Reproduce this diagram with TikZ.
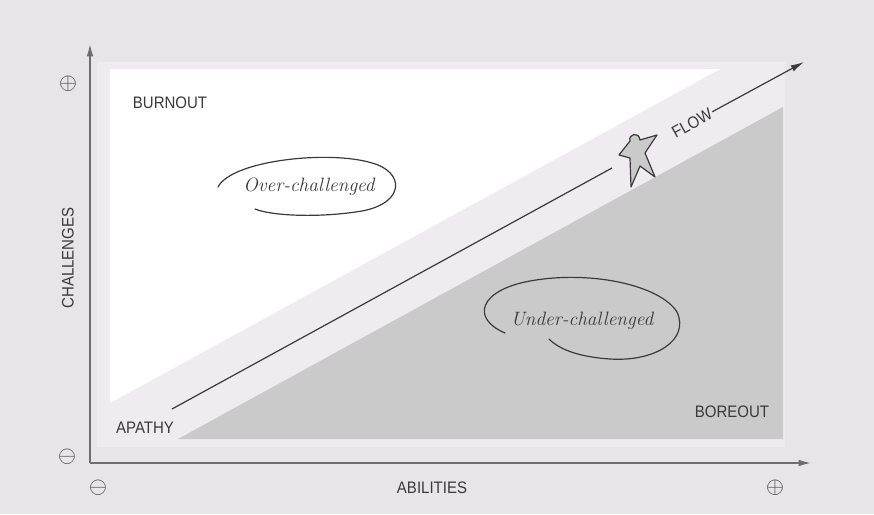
\documentclass[tikz,border=0pt]{standalone}
\usepackage{fontspec}
\setsansfont{Liberation Sans}[FakeStretch=0.9]
\usetikzlibrary{arrows.meta}

\definecolor{bgpink}{HTML}{E8E5E8}
\definecolor{panel}{HTML}{EEECEE}
\definecolor{dark}{HTML}{CBCACB}
\definecolor{axisgray}{HTML}{6E6E6E}
\definecolor{inkgray}{HTML}{3A3A3A}

\tikzset{every picture/.style={line width=0.75pt}}

\begin{document}
\begin{tikzpicture}[x=0.75pt,y=0.75pt,yscale=-1,
  caps/.style={font=\sffamily\fontsize{12.5}{12.5}\selectfont, text=inkgray, inner sep=0.75pt},
  hand/.style={font=\itshape\fontsize{14.5}{14.5}\selectfont, text=inkgray, inner sep=0.75pt},
  sign/.style={font=\fontsize{17}{17}\selectfont, text=inkgray, inner sep=0pt},
  axis/.style={draw=axisgray, line width=1.6pt, -{Latex[length=10pt,width=5pt]}},
  loop/.style={draw=inkgray, line width=0.9pt, line cap=round}]
\useasboundingbox (0,0) rectangle (874,514);
%set diagram background
\fill[bgpink] (0,0) rectangle (874,514);

%Shape: Rectangle [id:panel]
\fill[panel] (97,62) rectangle (785,447);
%Shape: White zone [id:burnout]
\fill[white] (110,69) -- (720,69) -- (110,403) -- cycle ;
%Shape: Grey zone [id:boreout]
\fill[dark] (783,107) -- (783,439) -- (178,439) -- cycle ;

%Axes
\coordinate (origin) at (90,463);
\coordinate (ytip) at (90,43);
\coordinate (xtip) at (812,463);
\draw[axis] (origin) -- (ytip) ;
\draw[axis] (origin) -- (xtip) ;

% Text Node
\node[caps] (burnout) at (170,103) {BURNOUT};
% Text Node
\node[caps] (apathy) at (145,428) {APATHY};
% Text Node
\node[caps] (boreout) at (732,412) {BOREOUT};
% Text Node
\node[caps, rotate=29] (flow) at (692,123) {FLOW};
% Text Node
\node[caps, rotate=90] (challenges) at (68,258) {CHALLENGES};
% Text Node
\node[caps] (abilities) at (432,488) {ABILITIES};

% Signs
\node[sign] (ymax) at (68,84) {$\oplus$};
\node[sign] (ymin) at (67,457) {$\ominus$};
\node[sign] (xmin) at (98,488) {$\ominus$};
\node[sign] (xmax) at (775,488) {$\oplus$};

% Text Node
\node[hand] (over) at (309,187) {Over-challenged};
% Text Node
\node[hand] (under) at (582,321) {Under-challenged};

%Hand drawn loops
\draw[loop] (218,187) .. controls (232,160) and (330,150) .. (372,163) .. controls (405,172) and (405,203) .. (362,211) .. controls (320,218) and (272,216) .. (255,209) ;
\draw[loop] (505,333) .. controls (470,318) and (480,290) .. (530,281) .. controls (590,270) and (660,285) .. (677,312) .. controls (690,340) and (655,362) .. (610,359) .. controls (580,357) and (560,350) .. (549,339) ;

%Flow arrow
\coordinate (flowstart) at (172,409);
\coordinate (figin) at (612,168);
\coordinate (flowtip) at (804,62);
\draw[draw=inkgray, line width=0.9pt] (flowstart) -- (figin) ;
\draw[draw=inkgray, line width=0.9pt, -{Latex[length=10pt,width=5pt]}] (flow.east) -- (flowtip) ;

%Shape: Little figure [id:figure]
\filldraw[fill=dark, draw=inkgray, line width=0.9pt, line join=round]
  (630,141) .. controls (628,134) and (639,131) .. (640,140)
  -- (657,135) -- (645,153) -- (655,177) -- (640,166) -- (631,187)
  -- (630,158) -- (619,155) -- cycle ;

\end{tikzpicture}
\end{document}
